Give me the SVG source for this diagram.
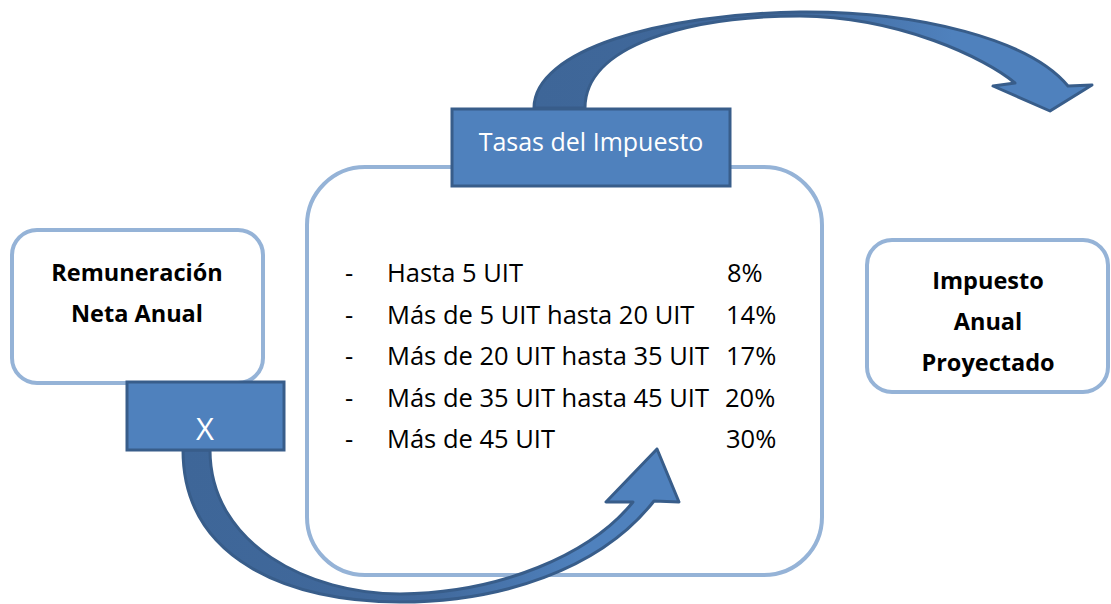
<svg xmlns="http://www.w3.org/2000/svg" width="1111" height="604" viewBox="0 0 1111 604">
<defs>
<style>
.card{fill:#FFFFFF;stroke:#95B3D7;stroke-width:4}
.tag{fill:#4F81BD;stroke:#385D8A;stroke-width:3}
.arrow{stroke:#385D8A;stroke-width:3;stroke-linejoin:round}
.bold{font-family:"Open Sans","Liberation Sans",sans-serif;font-weight:bold;font-size:23.5px;fill:#000;text-anchor:middle}
.list{font-family:"Open Sans","Liberation Sans",sans-serif;font-size:25.5px;fill:#000}
.white{font-family:"Open Sans","Liberation Sans",sans-serif;font-size:25px;fill:#FFFFFF;text-anchor:middle}
.big{font-size:31px}
</style>
<linearGradient id="gTop" x1="534" y1="0" x2="1092" y2="0" gradientUnits="userSpaceOnUse">
<stop offset="0" stop-color="#3E6698"/>
<stop offset="0.45" stop-color="#41699C"/>
<stop offset="0.75" stop-color="#4F81BD"/>
<stop offset="1" stop-color="#4F81BD"/>
</linearGradient>
<linearGradient id="gBot" x1="183" y1="0" x2="679" y2="0" gradientUnits="userSpaceOnUse">
<stop offset="0" stop-color="#3E6698"/>
<stop offset="0.5" stop-color="#41699C"/>
<stop offset="0.8" stop-color="#4F81BD"/>
<stop offset="1" stop-color="#4F81BD"/>
</linearGradient>
</defs>

<g id="tasas-panel">
<rect class="card" x="307" y="167" width="515" height="408" rx="58" ry="58"/>
<text class="list" x="345" y="282">-</text>
<text class="list" x="345" y="324">-</text>
<text class="list" x="345" y="365">-</text>
<text class="list" x="345" y="407">-</text>
<text class="list" x="345" y="448">-</text>
<text class="list" x="387" y="282">Hasta 5 UIT</text>
<text class="list" x="387" y="324">Más de 5 UIT hasta 20 UIT</text>
<text class="list" x="387" y="365">Más de 20 UIT hasta 35 UIT</text>
<text class="list" x="387" y="407">Más de 35 UIT hasta 45 UIT</text>
<text class="list" x="387" y="448">Más de 45 UIT</text>
<text class="list" x="727" y="282">8%</text>
<text class="list" x="726" y="324">14%</text>
<text class="list" x="726" y="365">17%</text>
<text class="list" x="725" y="407">20%</text>
<text class="list" x="726" y="448">30%</text>
</g>

<g id="remuneracion">
<rect class="card" x="12" y="230" width="251" height="153" rx="25" ry="25"/>
<text class="bold" x="137" y="281">Remuneración</text>
<text class="bold" x="137" y="322">Neta Anual</text>
</g>

<g id="impuesto-anual">
<rect class="card" x="867" y="240" width="241" height="152" rx="25" ry="25"/>
<text class="bold" x="988" y="289">Impuesto</text>
<text class="bold" x="988" y="330">Anual</text>
<text class="bold" x="988" y="371">Proyectado</text>
</g>

<g id="connectors">
<path class="arrow" fill="url(#gTop)" d="M534,108 C534,50 660,14 800,12 C920,11 1030,40 1068,86 L1092,85 L1050,111 L993,86 L1015,83 C985,58 900,17 800,16 C690,16 585,45 585,108 Z"/>
<path class="arrow" fill="url(#gBot)" d="M183,450 C183,560 290,602 400,602 C500,602 600,570 654,501 L679,502 L657,449 L606,502 L633,502 C590,555 500,593 400,594 C310,594 210,545 210,450 Z"/>
</g>

<g id="tasas-label">
<rect class="tag" x="452" y="109" width="278" height="77"/>
<text class="white" x="591" y="151">Tasas del Impuesto</text>
</g>

<g id="multiplicador">
<rect class="tag" x="127" y="382" width="157" height="68"/>
<text class="white big" x="205" y="440">X</text>
</g>
</svg>
